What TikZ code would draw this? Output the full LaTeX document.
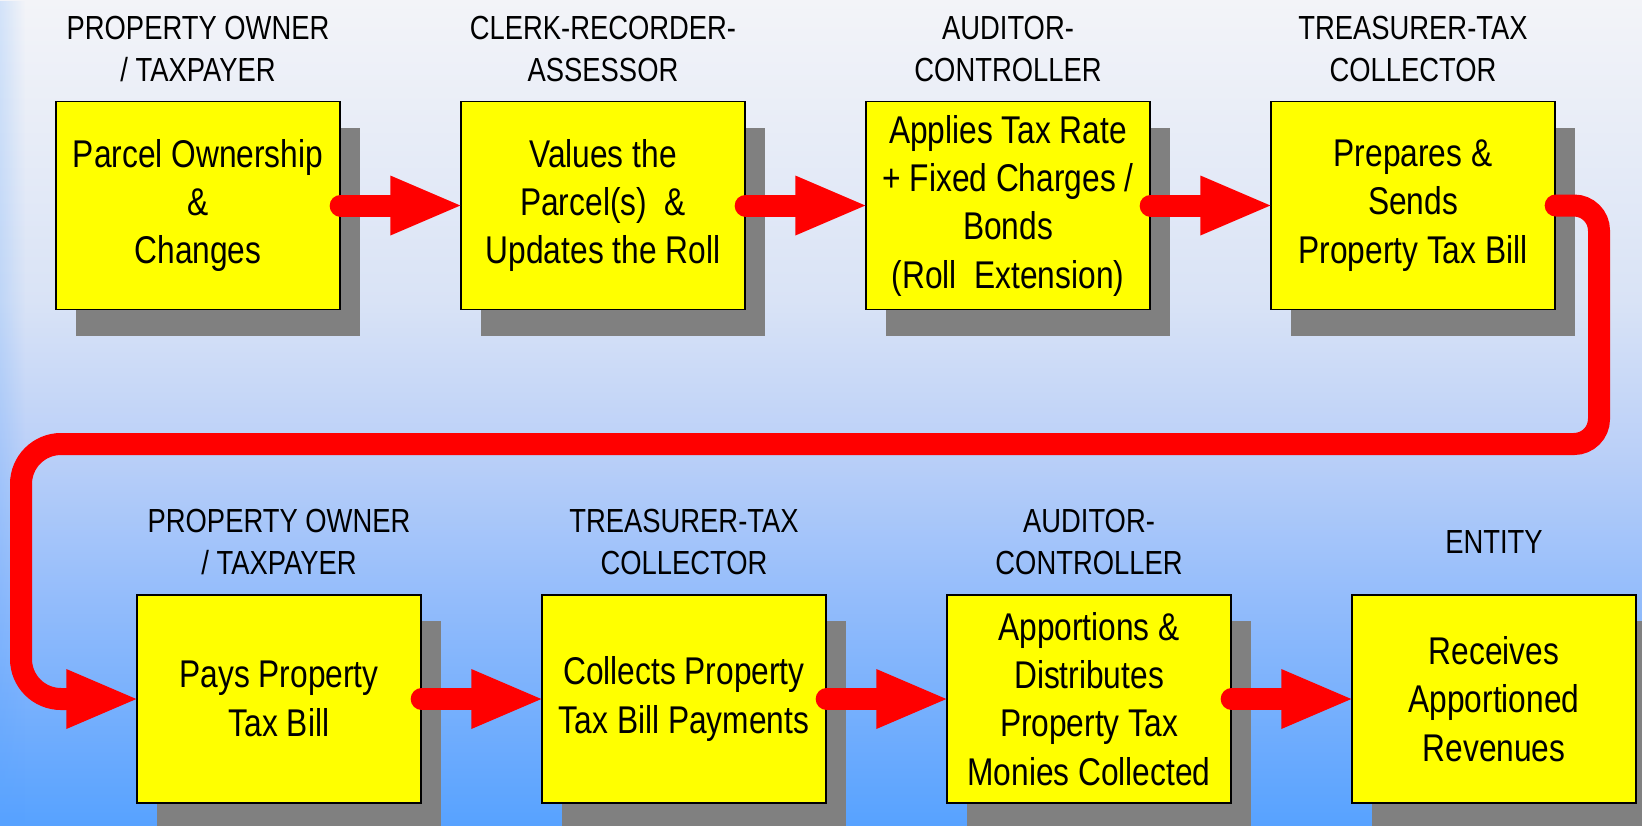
\documentclass[tikz,border=0pt]{standalone}
\usepackage{fontspec}
\setmainfont{Liberation Sans}[FakeStretch=0.82]
\usetikzlibrary{arrows.meta,shadows,fadings}
\definecolor{skytop}{HTML}{F3F4F8}
\definecolor{skyhigh}{HTML}{D9E3F6}
\definecolor{skymid}{HTML}{BBD0F8}
\definecolor{skylow}{HTML}{93BCFB}
\definecolor{skybottom}{HTML}{57A2FF}
\definecolor{shadowgray}{HTML}{808080}
\definecolor{boxyellow}{RGB}{255,255,0}
\definecolor{flowred}{RGB}{255,0,0}
\pgfdeclareverticalshading{sky}{100bp}{color(0bp)=(skybottom); color(25bp)=(skybottom);
  color(38.6bp)=(skylow); color(47.7bp)=(skymid); color(56.8bp)=(skyhigh);
  color(75bp)=(skytop); color(100bp)=(skytop)}
\begin{document}
\begin{tikzpicture}[
    stepbox/.style={draw=black,line width=0.75pt,fill=boxyellow,
      minimum width=56.8mm,minimum height=41.6mm,align=center,
      font=\fontsize{22}{27.5}\selectfont,
      drop shadow={shadow xshift=4mm,shadow yshift=-5.2mm,fill=shadowgray,opacity=1}},
    role/.style={align=center,font=\fontsize{19}{24}\selectfont},
    flow/.style={draw=flowred,line width=4.4mm,line cap=round,
      -{Triangle[length=14mm,width=12mm,line width=0pt]}}]
    \useasboundingbox (0,0) rectangle (328.4mm,-165mm);
    \shade[shading=sky] (0,0) rectangle (328.4mm,-165mm);
    \fill[skybottom,opacity=0.2,path fading=east] (0,0) rectangle (5mm,-165mm);

    \node[role] (ownrole) at (39.6mm,-9.8mm) {PROPERTY OWNER\\/ TAXPAYER};
    \node[role] (assessrole) at (120.6mm,-9.8mm) {CLERK-RECORDER-\\ASSESSOR};
    \node[role] (extendrole) at (201.6mm,-9.8mm) {AUDITOR-\\CONTROLLER};
    \node[role] (billrole) at (282.6mm,-9.8mm) {TREASURER-TAX\\COLLECTOR};

    \node[stepbox] (own) at (39.6mm,-41.1mm) {Parcel Ownership\\\&\\Changes};
    \node[stepbox] (assess) at (120.6mm,-41.1mm) {Values the\\Parcel(s)\ \ \&\\Updates the Roll};
    \node[stepbox] (extend) at (201.6mm,-41.1mm) {Applies Tax Rate\\+ Fixed Charges /\\Bonds\\(Roll\ \ Extension)};
    \node[stepbox] (bill) at (282.6mm,-41.1mm) {Prepares \&\\Sends\\Property Tax Bill};

    \node[role] (payrole) at (55.8mm,-108.4mm) {PROPERTY OWNER\\/ TAXPAYER};
    \node[role] (collectrole) at (136.8mm,-108.4mm) {TREASURER-TAX\\COLLECTOR};
    \node[role] (apportionrole) at (217.8mm,-108.4mm) {AUDITOR-\\CONTROLLER};
    \node[role] (entityrole) at (298.8mm,-108.4mm) {ENTITY};

    \node[stepbox] (pay) at (55.8mm,-139.8mm) {Pays Property\\Tax Bill};
    \node[stepbox] (collect) at (136.8mm,-139.8mm) {Collects Property\\Tax Bill Payments};
    \node[stepbox] (apportion) at (217.8mm,-139.8mm) {Apportions \&\\Distributes\\Property Tax\\Monies Collected};
    \node[stepbox] (entity) at (298.8mm,-139.8mm) {Receives\\Apportioned\\Revenues};

    \coordinate (turnR) at (319.8mm,-88.8mm);
    \coordinate (turnL) at (4.2mm,-88.8mm);

    \draw[flow] (own.east) -- (assess.west);
    \draw[flow] (assess.east) -- (extend.west);
    \draw[flow] (extend.east) -- (bill.west);
    \draw[flow] (bill.east) [rounded corners=5mm] -| (turnR) [rounded corners=8mm] -- (turnL) |- (pay.west);
    \draw[flow] (pay.east) -- (collect.west);
    \draw[flow] (collect.east) -- (apportion.west);
    \draw[flow] (apportion.east) -- (entity.west);
  \end{tikzpicture}
\end{document}
